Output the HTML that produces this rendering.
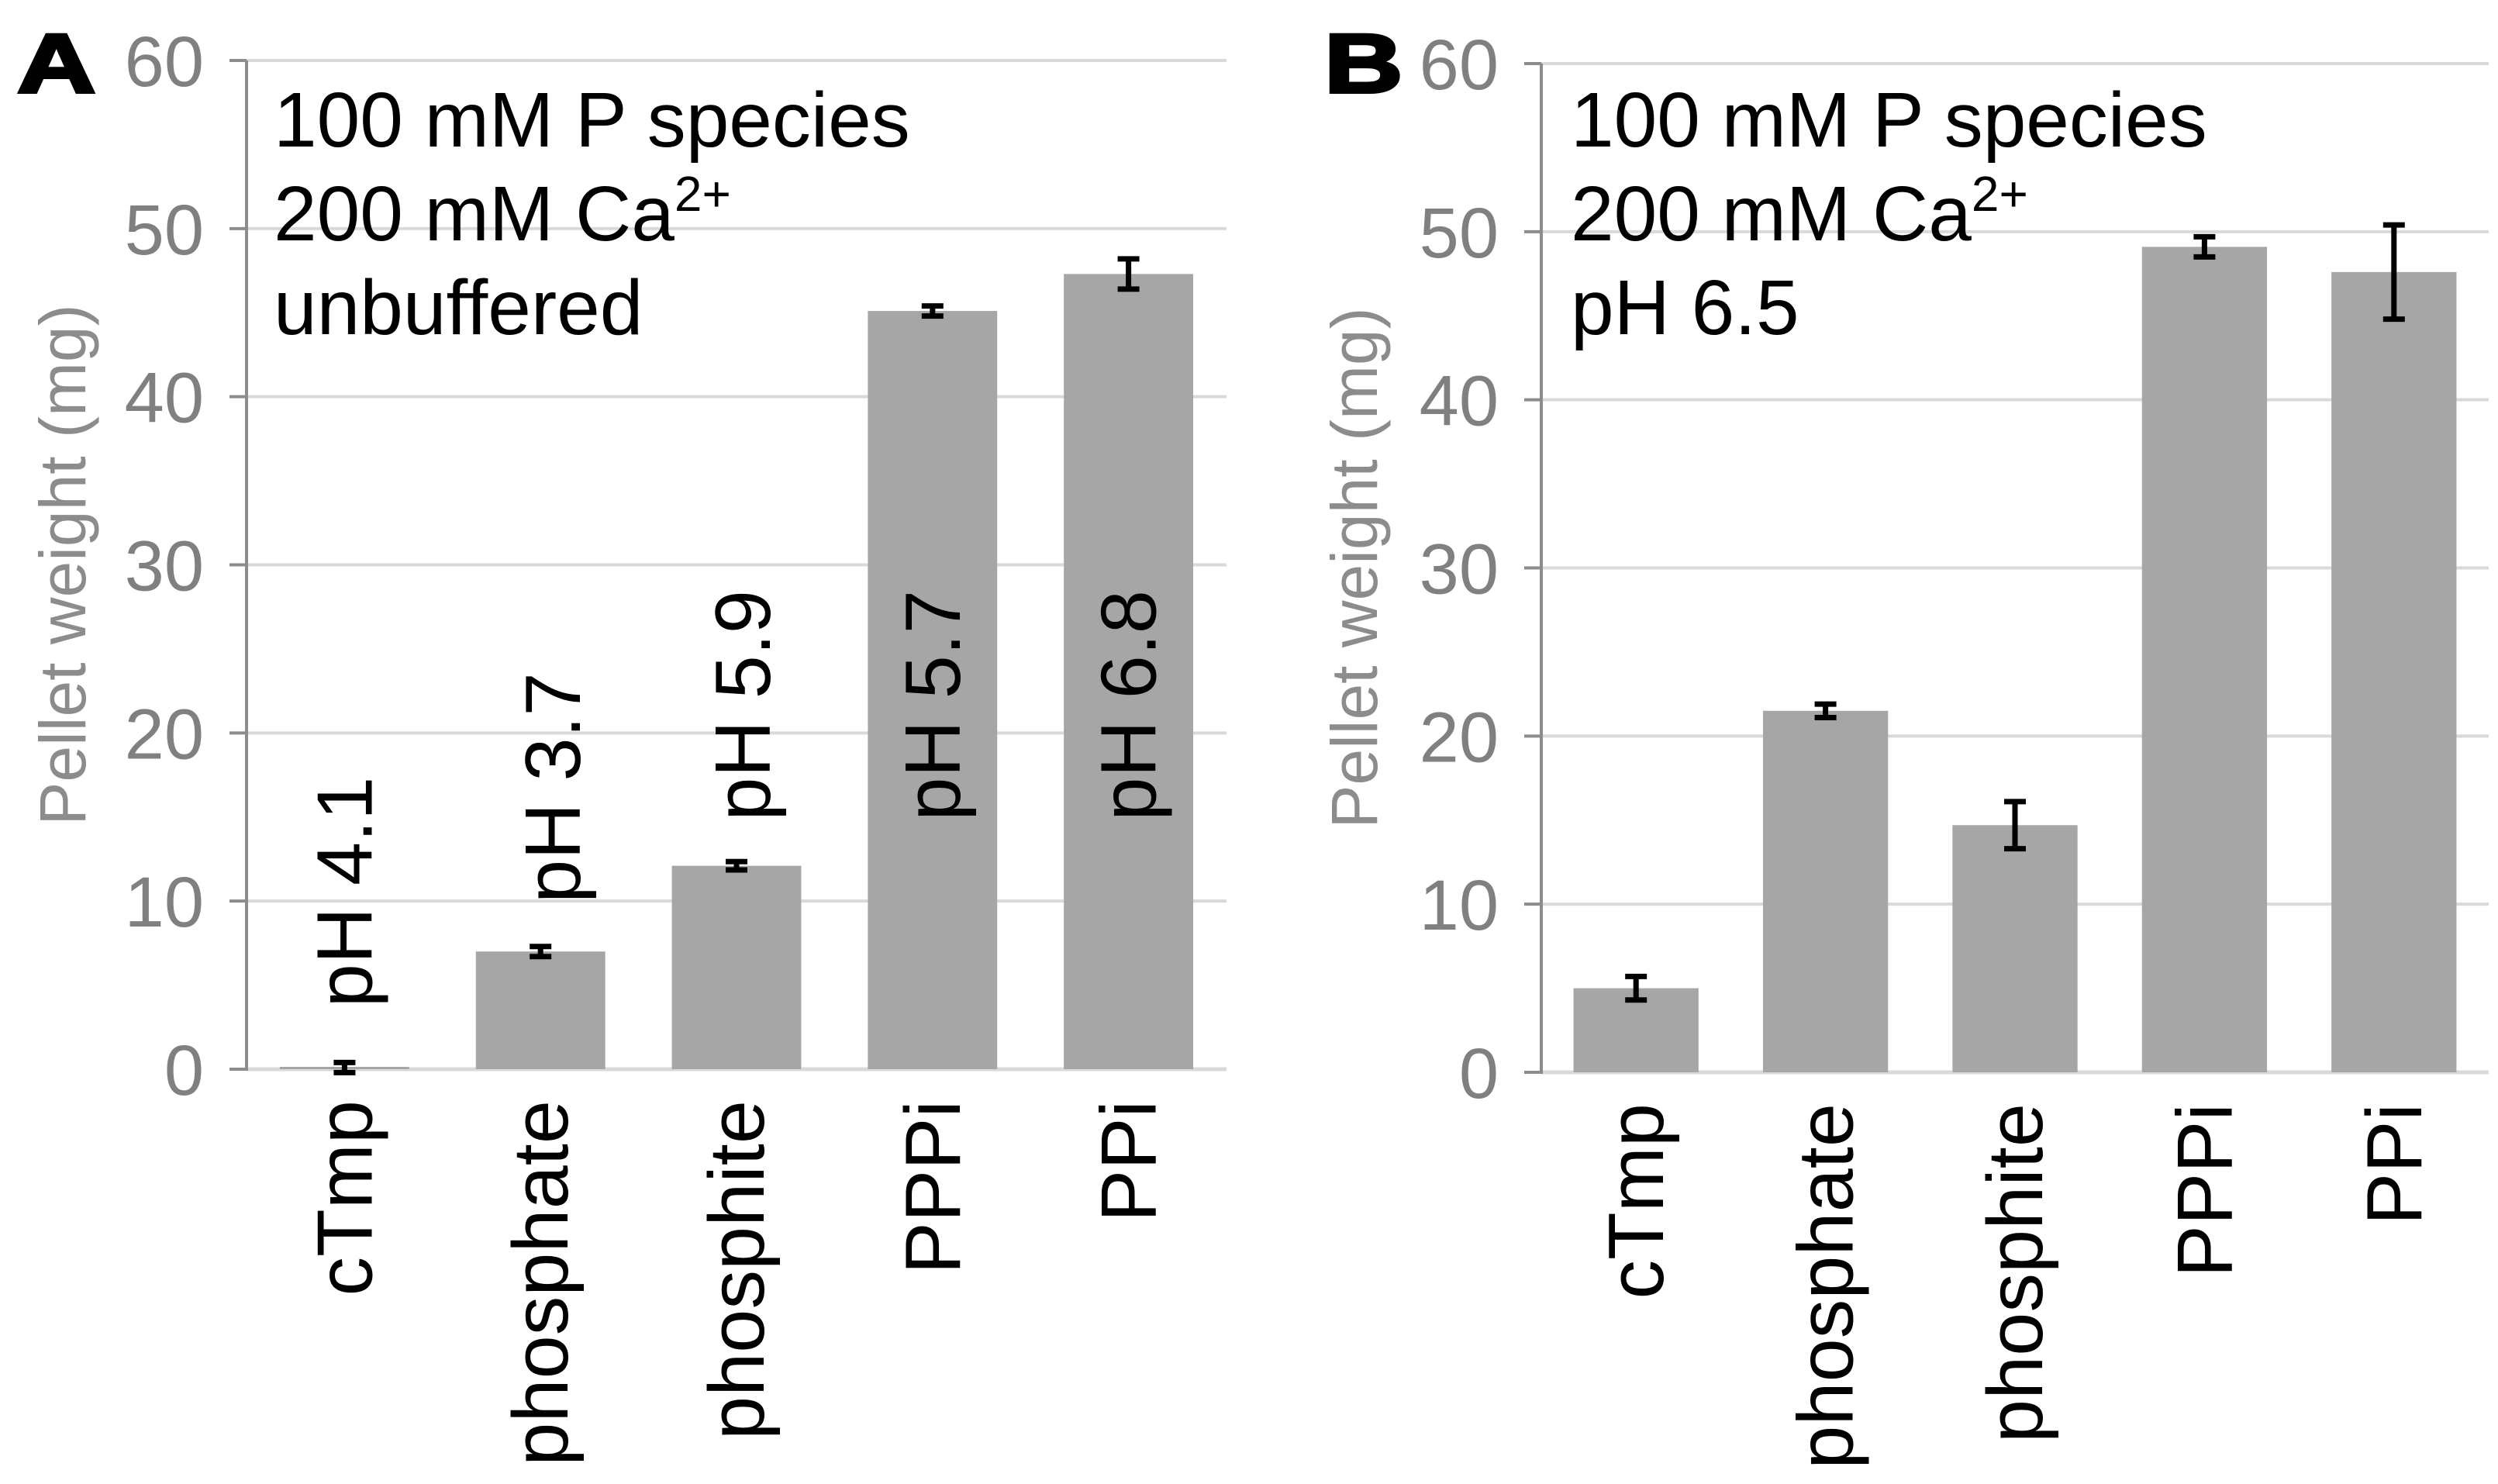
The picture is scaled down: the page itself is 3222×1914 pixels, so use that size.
<!DOCTYPE html>
<html><head><meta charset="utf-8">
<style>
html,body{margin:0;padding:0;background:#fff;}
svg{display:block;font-family:"Liberation Sans",Arial,sans-serif;}
</style></head>
<body>
<svg id="fig" width="3222" height="1914" viewBox="0 0 3222 1914"></svg>
<script>
const categories = ["cTmp","phosphate","phosphite","PPPi","PPi"];
const valuesA = [0.1, 7.0, 12.1, 45.1, 47.3];
const errorsA = [0.3, 0.3, 0.25, 0.3, 0.9];
const valuesB = [5.0, 21.5, 14.7, 49.1, 47.6];
const errorsB = [0.7, 0.4, 1.4, 0.6, 2.8];
const phLabelsA = ["pH 4.1","pH 3.7","pH 5.9","pH 5.7","pH 6.8"];
const phLabelTopA = [17.4, 23.6, 28.5, 28.5, 28.5];
const yTicks = [0,10,20,30,40,50,60];
const notesA = ["100 mM P species","200 mM Ca","unbuffered"];
const notesB = ["100 mM P species","200 mM Ca","pH 6.5"];

const NS="http://www.w3.org/2000/svg";
const svg=document.getElementById('fig');
function mk(tag,attrs,parent,text){const e=document.createElementNS(NS,tag);for(const k in attrs)e.setAttribute(k,attrs[k]);if(text!==undefined)e.textContent=text;(parent||svg).appendChild(e);return e;}

function panel(cfg){
  const g=mk('g',{});
  
  
  const y=v=>cfg.y0-(cfg.y0-cfg.y60)*v/60;
  const bw=(cfg.x1-cfg.x0)/categories.length;
  const cx=i=>cfg.x0+bw*(i+0.5);
  yTicks.forEach(t=>{
    if(t>0){const l=mk('line',{x1:cfg.x0,x2:cfg.x1,y1:y(t),y2:y(t),stroke:'#d9d9d9','stroke-width':4},g);
    
    }
    const tk=mk('line',{x1:cfg.x0-22,x2:cfg.x0,y1:y(t),y2:y(t),stroke:'#8c8c8c','stroke-width':4},g);
    
    
    const tl=mk('text',{x:cfg.x0-55,y:y(t)+33,'text-anchor':'end','font-size':92,fill:'#808080'},g,String(t));
    
    
  });
  const base=mk('line',{x1:cfg.x0,x2:cfg.x1,y1:y(0),y2:y(0),stroke:'#d9d9d9','stroke-width':5},g);
  
  
  const ax=mk('line',{x1:cfg.x0,x2:cfg.x0,y1:y(60),y2:y(0)+2,stroke:'#8c8c8c','stroke-width':4},g);
  
  
  const bwid=bw*0.66;
  cfg.vals.forEach((v,i)=>{
    const h=Math.max(y(0)-y(v),3);
    const r=mk('rect',{x:cx(i)-bwid/2,y:y(0)-h,width:bwid,height:h,fill:'#a6a6a6'},g);
    
    
    const e=cfg.errs[i],top=y(v+e),bot=y(v-e);
    const eb=mk('path',{d:`M${cx(i)-14},${top}H${cx(i)+14}M${cx(i)},${top}V${bot}M${cx(i)-14},${bot}H${cx(i)+14}`,stroke:'#000','stroke-width':7,fill:'none'},g);
    
    
    const cl=mk('text',{transform:`translate(${cx(i)+35},${y(0)+40}) rotate(-90)`,'text-anchor':'end','font-size':101,fill:'#000'},g,categories[i]);
    
    
    if(cfg.ph){
      const pl=mk('text',{transform:`translate(${cx(i)+35+(i===1?16:i===2?8:0)},${y(phLabelTopA[i])}) rotate(-90)`,'text-anchor':'end','font-size':101,fill:'#000'},g,cfg.ph[i]);
      
      
    }
  });
  const yt=mk('text',{transform:`translate(${cfg.titleX},${(y(0)+y(60))/2}) rotate(-90)`,'text-anchor':'middle','font-size':84,fill:'#8c8c8c'},g,'Pellet weight (mg)');
  
  
  const lt=mk('text',{transform:`translate(${cfg.letterX},119) scale(1.3,1)`,'font-size':108,'font-weight':'bold',fill:'#000',stroke:'#000','stroke-width':4},g,cfg.letter);
  
  
  cfg.notes.forEach((n,k)=>{
    const t=mk('text',{x:cfg.noteX,y:189+k*121,'font-size':100,fill:'#000'},g,n);
    
    
    if(k===1){mk('tspan',{dy:-38,'font-size':64},t,'2+');}
  });
}
panel({name:'panel-a',x0:318,x1:1582,y0:1379,y60:78,vals:valuesA,errs:errorsA,ph:phLabelsA,titleX:110,letter:'A',letterX:22,notes:notesA,noteX:353});
panel({name:'panel-b',x0:1988,x1:3210,y0:1383,y60:82,vals:valuesB,errs:errorsB,ph:null,titleX:1776,letter:'B',letterX:1708,notes:notesB,noteX:2026});
</script>
</body></html>
